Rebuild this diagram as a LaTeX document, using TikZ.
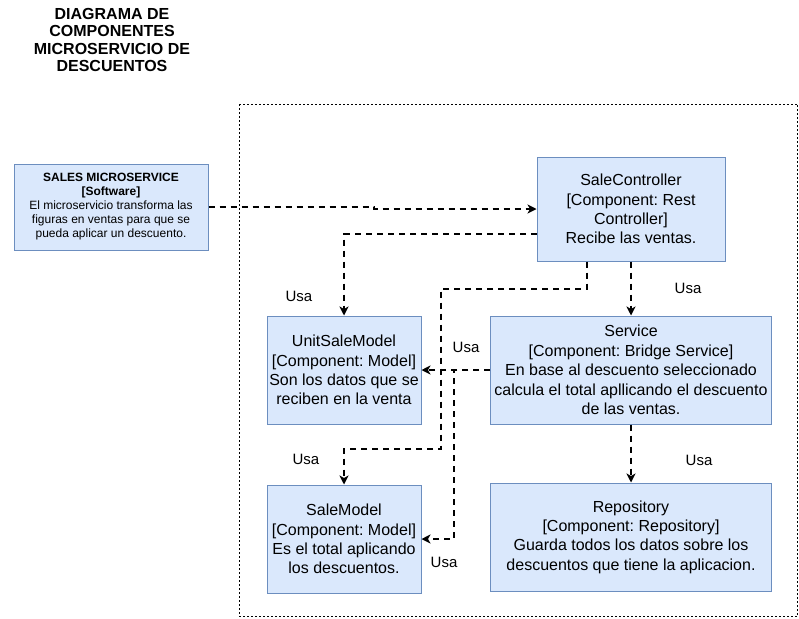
\documentclass[tikz,border=0pt]{standalone}
\usepackage{fontspec}
\setmainfont{Liberation Sans}
\usepackage{xcolor}
\usepackage{tikz}
\usetikzlibrary{arrows.meta}
\frenchspacing
\definecolor{compfill}{HTML}{DAE8FC}
\definecolor{compline}{HTML}{6C8EBF}
\tikzset{
  comp/.style={draw=compline, fill=compfill, line width=1pt, align=center,
    inner sep=2pt, font=\fontsize{16}{19.4}\selectfont},
  usa/.style={dashed, dash pattern=on 6pt off 5pt, line width=2pt,
    -{Stealth[length=9pt,width=9pt,inset=2.5pt]}},
  usalbl/.style={font=\fontsize{15}{18}\selectfont, inner sep=0pt}
}
\begin{document}
\begin{tikzpicture}[x=1pt, y=-1pt]
        \useasboundingbox (0,0) rectangle (799,618);
        % Title and container
        \node[align=center, font=\fontsize{16}{17.6}\selectfont\bfseries] (title) at (112,40)
          {DIAGRAMA DE\\COMPONENTES\\MICROSERVICIO DE\\DESCUENTOS};
        \draw[line width=1pt, dash pattern=on 2pt off 2pt] (239.5,104) rectangle (797.5,616.5);
        % Components
        \node[comp, minimum width=194pt, minimum height=86pt, font=\fontsize{12}{14}\selectfont] (sales) at (111,207)
          {\textbf{SALES MICROSERVICE}\\\textbf{[Software]}\\El microservicio transforma las\\figuras en ventas para que se\\pueda aplicar un descuento.};
        \node[comp, minimum width=188pt, minimum height=104pt] (ctrl) at (631,209)
          {SaleController\\{}[Component: Rest\\Controller]\\Recibe las ventas.};
        \node[comp, minimum width=154pt, minimum height=108pt] (unit) at (344,370)
          {UnitSaleModel\\{}[Component: Model]\\Son los datos que se\\reciben en la venta};
        \node[comp, minimum width=154pt, minimum height=108pt] (salemodel) at (344,539)
          {SaleModel\\{}[Component: Model]\\Es el total aplicando\\los descuentos.};
        \node[comp, minimum width=281pt, minimum height=108pt] (service) at (631,370)
          {Service\\{}[Component: Bridge Service]\\En base al descuento seleccionado\\calcula el total apllicando el descuento\\de las ventas.};
        \node[comp, minimum width=281pt, minimum height=108pt] (repo) at (631,537)
          {Repository\\{}[Component: Repository]\\Guarda todos los datos sobre los\\descuentos que tiene la aplicacion.};
        % Connectors
        \draw[usa] (sales.east) -- ++(165,0) |- (ctrl.west);
        \draw[usa] ([yshift=-25pt]ctrl.west) -| (unit.north);
        \draw[usa] ([xshift=-44pt]ctrl.south) -- ++(0,27) -- ++(-146,0) -- ++(0,160) -| (salemodel.north);
        \draw[usa] (ctrl.south) -- (service.north);
        \draw[usa] (service.west) -- (unit.east);
        \draw[usa] (service.west) -- ++(-36,0) |- (salemodel.east);
        \draw[usa] (service.south) -- (repo.north);
        % Labels
        \node[usalbl] (usa1) at (299,296) {Usa};
        \node[usalbl] (usa2) at (306,459) {Usa};
        \node[usalbl] (usa3) at (688,288) {Usa};
        \node[usalbl] (usa4) at (466,347) {Usa};
        \node[usalbl] (usa5) at (444,562) {Usa};
        \node[usalbl] (usa6) at (699,460) {Usa};
    \end{tikzpicture}
\end{document}
